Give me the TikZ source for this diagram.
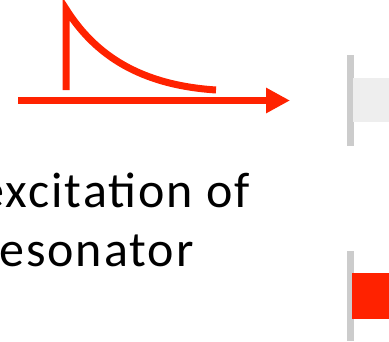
\documentclass[tikz,border=0pt]{standalone}
\usepackage{fontspec}
\setmainfont{Carlito}[LetterSpace=4]
\usetikzlibrary{arrows.meta}
\definecolor{pulsered}{RGB}{255,34,0}
\definecolor{wallgray}{RGB}{204,204,204}
\definecolor{paleblock}{RGB}{238,238,238}
\tikzset{
  redline/.style={draw=pulsered, line width=7pt},
  label/.style={inner sep=0pt, anchor=base west, font=\fontsize{50}{60}\selectfont}
}
\begin{document}
\begin{tikzpicture}[x=1pt, y=-1pt]
  \useasboundingbox (0,0) rectangle (389,341);
  \clip (0,0) rectangle (389,341);

  % time axis
  \coordinate (axisstart) at (18,100.5);
  \coordinate (axisend) at (290,100.5);
  \draw[redline, line width=7.5pt, -{Triangle[length=24pt,width=24pt]}] (axisstart) -- (axisend);

  % excitation pulse: sharp rise, exponential decay
  \coordinate (pulsefoot) at (66,90);
  \coordinate (pulsepeak) at (66,9);
  \coordinate (pulsetail) at (216,90);
  \draw[redline, line join=miter] (pulsefoot) -- (pulsepeak)
    .. controls (95,55) and (140,85) .. (pulsetail);

  % caption
  \node[label] (captionA) at (-20.5,207) {excitation of};
  \node[label] (captionB) at (-1,266) {esonator};

  % upper wall with pale block
  \fill[wallgray] (347,55) rectangle (354,146);
  \fill[paleblock] (353,78) rectangle (389,122);

  % lower wall with red block
  \fill[wallgray] (347,251) rectangle (354,341);
  \fill[pulsered] (352,273) rectangle (389,319);
\end{tikzpicture}
\end{document}
